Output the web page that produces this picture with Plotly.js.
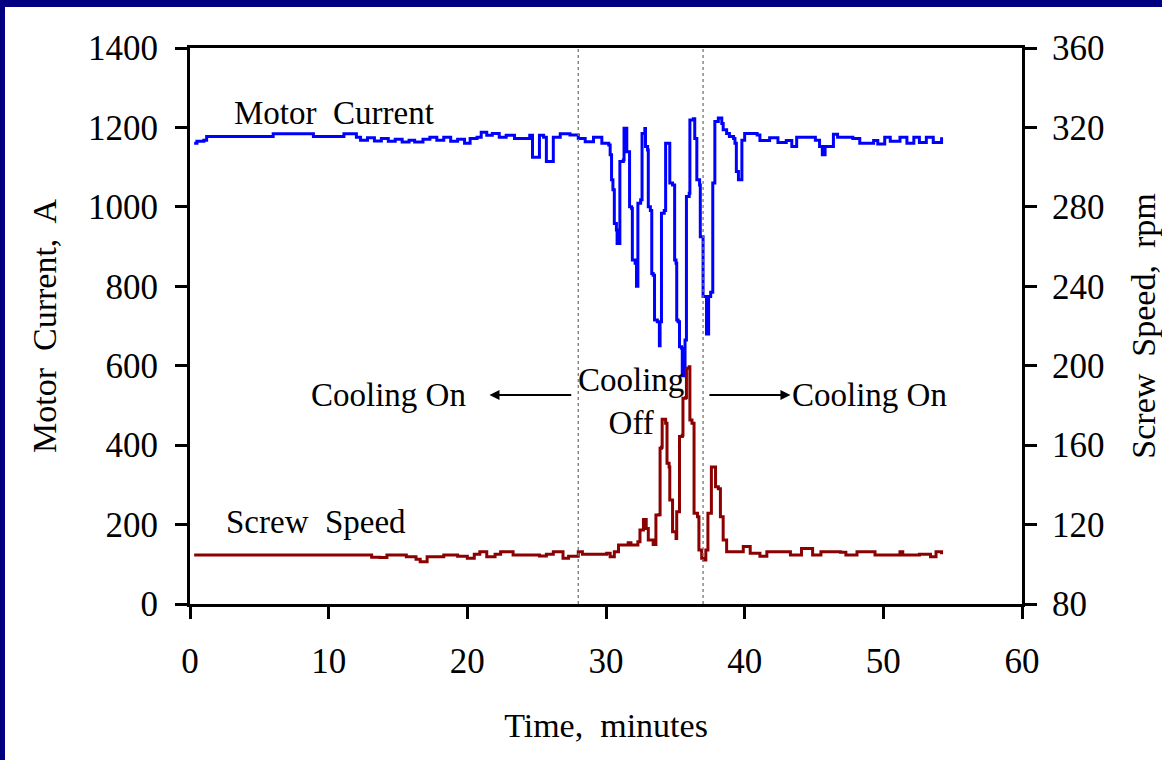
<!DOCTYPE html>
<html>
<head>
<meta charset="utf-8">
<script src="https://cdn.plot.ly/plotly-3.0.1.min.js"></script>
<style>
  html, body { margin: 0; padding: 0; background: #000080; width: 1162px; height: 760px; overflow: hidden; }
  #chart { position: absolute; left: 5px; top: 7px; width: 1157px; height: 753px; background: #fff; }
</style>
</head>
<body>
<div id="chart"></div>
<script>
// ---- Motor current (A) vs time (minutes) ----
const motorTime = [
  0.3,0.5,1.0,1.2,5.9,6.0,8.8,8.9,11.0,11.1,
  11.8,12.0,12.3,12.8,13.3,13.8,14.3,14.8,15.3,15.8,
  16.2,16.8,17.3,17.8,18.3,18.8,19.3,19.8,20.2,20.7,
  21.0,21.4,21.8,22.3,22.8,23.4,24.0,24.5,24.7,25.0,
  25.2,25.5,25.7,26.0,26.2,26.7,27.4,28.0,28.5,29.1,
  29.7,30.2,30.3,30.4,30.5,30.6,30.75,30.8,30.9,31.0,
  31.0,31.25,31.3,31.5,31.5,31.7,31.7,31.85,31.9,32.1,
  32.2,32.25,32.3,32.3,32.5,32.6,32.8,32.85,33.0,33.05,
  33.2,33.3,33.4,33.5,33.7,33.85,33.9,34.0,34.2,34.3,
  34.55,34.6,34.8,34.95,35.05,35.1,35.2,35.3,35.45,35.5,
  35.7,35.7,35.8,36.0,36.05,36.3,36.4,36.55,36.55,36.75,
  36.8,37.0,37.0,37.25,37.4,37.55,37.7,37.85,37.85,38.1,
  38.35,38.45,38.7,38.9,39.2,39.3,39.4,39.55,39.8,39.8,
  40.0,40.9,41.1,41.8,42.4,43.0,43.4,43.75,45.1,45.4,
  45.6,45.8,46.4,46.7,47.8,48.3,49.3,49.6,50.1,50.5,
  51.2,51.7,52.2,52.6,53.1,53.6,54.2
];
const motorCurrent = [
  1160,1165,1168,1177,1177,1184,1184,1177,1177,1184,
  1184,1175,1168,1174,1166,1172,1165,1170,1163,1168,
  1163,1170,1175,1168,1175,1165,1170,1160,1172,1175,
  1188,1180,1185,1175,1180,1172,1172,1180,1125,1125,
  1180,1175,1114,1114,1175,1184,1181,1172,1164,1175,
  1160,1156,1131,1068,1043,958,942,908,908,942,
  1114,1118,1198,1198,1139,1114,1000,996,866,858,
  800,800,858,1009,1018,1185,1197,1152,1143,1000,
  991,832,828,715,711,650,711,984,991,1160,
  1160,1060,1055,866,858,715,711,648,644,575,
  575,665,1026,1034,1219,1222,1172,1160,1068,1055,
  925,916,774,680,774,785,1060,1068,1215,1224,
  1210,1194,1185,1177,1172,1160,1089,1068,1089,1168,
  1185,1181,1167,1174,1162,1167,1152,1175,1168,1152,
  1131,1152,1183,1175,1172,1160,1167,1158,1175,1165,
  1175,1160,1175,1162,1175,1162,1175
];

// ---- Screw speed (rpm) vs time (minutes) ----
const screwTime = [
  0.3,13.0,13.1,13.7,14.2,14.8,15.6,16.3,16.6,17.1,
  18.3,19.3,20.0,20.5,20.9,21.4,22.0,22.4,23.3,25.2,
  25.7,26.2,26.9,27.3,28.0,28.3,30.05,30.3,30.6,30.9,
  31.6,31.8,32.3,32.45,32.7,32.9,33.05,33.4,33.6,33.8,
  33.9,34.0,34.05,34.3,34.4,34.55,34.6,34.8,35.05,35.1,
  35.3,35.5,35.55,35.75,35.8,36.0,36.05,36.2,36.35,36.6,
  36.7,36.9,37.05,37.2,37.35,37.6,37.6,37.85,37.9,38.1,
  38.25,38.45,38.7,39.2,39.9,40.4,41.1,41.6,43.3,44.1,
  44.9,45.5,46.9,47.3,48.1,49.2,49.4,51.2,51.4,52.6,
  53.4,53.8,54.2
];
const screwSpeed = [
  104.7,104.7,103.5,103.4,104.7,104.7,103.8,102.5,101.3,103.8,
  104.7,104,103,105,106.3,103.8,105,106.3,104.7,104.2,
  105,106.3,103,104,106.3,105,105.5,103.8,106.3,109.7,
  110.9,109.7,111.4,117.3,122.6,118,112.2,110,124.8,125,
  158.4,159,173,171,150.9,149,132.4,116.4,113,126.5,
  164.3,165,183.6,184,198.7,199.5,172.7,171,125.7,124,
  107.2,103,102.2,107.2,125.7,126,149,149,139,138,
  124,112.2,106.3,106.3,108.9,105.5,104,106.3,104.7,108,
  104.7,106.3,106,104.7,106.3,106.3,104.7,106.3,104.7,105,
  103.8,106.3,105
];

// ---- Cooling-off window (minutes) ----
const coolingOffStart = 28;
const coolingOffEnd = 37;

const FONT = 'Liberation Serif, Times New Roman, serif';
const NB = '\u00A0';

const traces = [
  {
    x: motorTime, y: motorCurrent, type: 'scatter', mode: 'lines',
    name: 'Motor Current', line: {color: '#0000FF', width: 3, shape: 'hv'}, yaxis: 'y'
  },
  {
    x: screwTime, y: screwSpeed, type: 'scatter', mode: 'lines',
    name: 'Screw Speed', line: {color: '#8B0000', width: 3, shape: 'hv'}, yaxis: 'y2'
  }
];

const axisCommon = {
  showgrid: false, zeroline: false, showline: true, linecolor: '#000', linewidth: 3,
  ticks: 'outside', ticklen: 12, tickwidth: 3, tickcolor: '#000',
  tickfont: {family: FONT, size: 35, color: '#000'}
};

const layout = {
  width: 1157, height: 753,
  margin: {l: 185, r: 140, t: 41, b: 156},
  paper_bgcolor: '#fff', plot_bgcolor: '#fff',
  showlegend: false,
  font: {family: FONT, color: '#000'},
  xaxis: Object.assign({}, axisCommon, {
    range: [0, 60], dtick: 10, tick0: 0, mirror: true, ticklabelstandoff: 12,
    title: {text: 'Time,' + NB + ' minutes', font: {family: FONT, size: 34, color: '#000'}, standoff: 34}
  }),
  yaxis: Object.assign({}, axisCommon, {
    range: [0, 1400], dtick: 200, tick0: 0, ticklabelstandoff: 10,
    title: {text: 'Motor' + NB + ' Current,' + NB + ' A', font: {family: FONT, size: 34, color: '#000'}, standoff: 22}
  }),
  yaxis2: Object.assign({}, axisCommon, {
    range: [80, 360], dtick: 40, tick0: 80, overlaying: 'y', side: 'right', ticklabelstandoff: 8,
    title: {text: 'Screw' + NB + ' Speed,' + NB + ' rpm', font: {family: FONT, size: 34, color: '#000'}, standoff: 32}
  }),
  shapes: [
    {type: 'line', xref: 'x', yref: 'paper', x0: coolingOffStart, x1: coolingOffStart, y0: 0, y1: 1,
     line: {color: '#777', width: 1.3, dash: 'dot'}},
    {type: 'line', xref: 'x', yref: 'paper', x0: coolingOffEnd, x1: coolingOffEnd, y0: 0, y1: 1,
     line: {color: '#777', width: 1.3, dash: 'dot'}}
  ],
  annotations: [
    {x: 10.4, y: 1236, xref: 'x', yref: 'y', text: 'Motor' + NB + ' Current', showarrow: false,
     font: {family: FONT, size: 33, color: '#000'}},
    {x: 9.1, y: 207, xref: 'x', yref: 'y', text: 'Screw' + NB + ' Speed', showarrow: false,
     font: {family: FONT, size: 33, color: '#000'}},
    {x: 14.3, y: 526, xref: 'x', yref: 'y', text: 'Cooling On', showarrow: false,
     font: {family: FONT, size: 33, color: '#000'}},
    {x: 49.0, y: 526, xref: 'x', yref: 'y', text: 'Cooling On', showarrow: false,
     font: {family: FONT, size: 33, color: '#000'}},
    {x: 31.8, y: 509, xref: 'x', yref: 'y', text: 'Cooling<br>Off', showarrow: false,
     font: {family: FONT, size: 33, color: '#000'}},
    {x: 21.6, y: 526, xref: 'x', yref: 'y', ax: 27.6, ay: 526, axref: 'x', ayref: 'y',
     text: '', showarrow: true, arrowhead: 2, arrowsize: 1, arrowwidth: 2, arrowcolor: '#000'},
    {x: 43.3, y: 526, xref: 'x', yref: 'y', ax: 37.35, ay: 526, axref: 'x', ayref: 'y',
     text: '', showarrow: true, arrowhead: 2, arrowsize: 1, arrowwidth: 2, arrowcolor: '#000'}
  ]
};

Plotly.newPlot('chart', traces, layout, {displayModeBar: false, staticPlot: true});
</script>
</body>
</html>
